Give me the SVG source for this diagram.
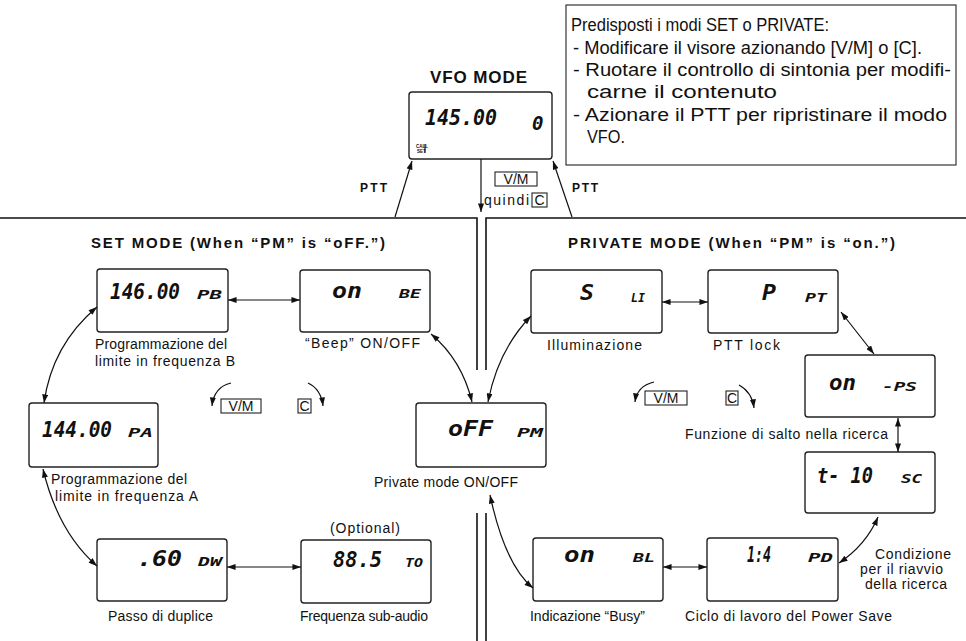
<svg xmlns="http://www.w3.org/2000/svg" width="966" height="641" viewBox="0 0 966 641">
<defs>
<style>
.bg{fill:#fff}
.lcd{fill:none;stroke:#222;stroke-width:1.4}
.box{fill:none;stroke:#222;stroke-width:1.1}
.dig{font-family:"DejaVu Sans Mono",monospace;font-style:oblique;font-weight:bold;fill:#111}
.big{font-size:21px}
.sm{font-size:13px}
.lab{font-family:"Liberation Sans",Arial,sans-serif;font-size:14px;fill:#111}
.note{font-family:"Liberation Sans",Arial,sans-serif;font-size:17.5px;fill:#111}
.ttl{font-family:"Liberation Sans",Arial,sans-serif;font-weight:bold;fill:#111}
.ln{fill:none;stroke:#111;stroke-width:1.2}
.div{fill:none;stroke:#111;stroke-width:1.6}
.a1{marker-end:url(#ah)}
.a2{marker-start:url(#ah);marker-end:url(#ah)}
</style>
<marker id="ah" viewBox="0 0 10 7" refX="10" refY="3.5" markerWidth="9" markerHeight="6" markerUnits="userSpaceOnUse" orient="auto-start-reverse"><path d="M0,0 L10,3.5 L0,7 z" fill="#111"/></marker>
</defs>
<rect class="bg" x="0" y="0" width="966" height="641"/>

<g id="note">
<rect class="box" x="566" y="5" width="390" height="160"/>
<text class="note" x="571" y="31" textLength="258" lengthAdjust="spacingAndGlyphs">Predisposti i modi SET o PRIVATE:</text>
<text class="note" x="573" y="54" textLength="349" lengthAdjust="spacingAndGlyphs">- Modificare il visore azionando [V/M] o [C].</text>
<text class="note" x="573" y="76" textLength="378" lengthAdjust="spacingAndGlyphs">- Ruotare il controllo di sintonia per modifi-</text>
<text class="note" x="587" y="98" textLength="190" lengthAdjust="spacingAndGlyphs">carne il contenuto</text>
<text class="note" x="573" y="121" textLength="374" lengthAdjust="spacingAndGlyphs">- Azionare il PTT per ripristinare il modo</text>
<text class="note" x="587" y="143" textLength="38" lengthAdjust="spacingAndGlyphs">VFO.</text>
</g>

<g id="vfo">
<text class="ttl" x="430" y="83" font-size="17" textLength="97" lengthAdjust="spacing">VFO MODE</text>
<rect class="lcd" x="409" y="92" width="143" height="67" rx="3"/>
<text class="dig big" x="425" y="125" font-size="24" textLength="72" lengthAdjust="spacingAndGlyphs">145.00</text>
<text class="dig" x="532" y="130" font-size="19">0</text>
<text x="416" y="148" font-family="Liberation Sans,sans-serif" font-size="4.5" font-weight="bold" fill="#111">CALL</text>
<text x="417" y="153" font-family="Liberation Sans,sans-serif" font-size="4.5" font-weight="bold" fill="#111">SET</text>
<line class="ln" x1="425" y1="144" x2="425" y2="153"/>
</g>

<g id="vfo-labels">
<text class="ttl" x="360" y="192" font-size="12" textLength="27" lengthAdjust="spacing">PTT</text>
<text class="ttl" x="572" y="192" font-size="12" textLength="26" lengthAdjust="spacing">PTT</text>
<rect class="box" x="495" y="172" width="42" height="14"/>
<text class="lab" x="516" y="184" font-size="13" text-anchor="middle">V/M</text>
<text class="lab" x="484" y="205" font-size="13" textLength="45" lengthAdjust="spacing">quindi</text>
<rect class="box" x="532" y="193" width="15" height="14"/>
<text class="lab" x="539.5" y="205" font-size="13" text-anchor="middle">C</text>
</g>

<g id="headings">
<text class="ttl" x="91" y="248" font-size="15" textLength="294" lengthAdjust="spacing">SET  MODE  (When “PM” is “oFF.”)</text>
<text class="ttl" x="568" y="248" font-size="15" textLength="327" lengthAdjust="spacing">PRIVATE  MODE  (When “PM” is “on.”)</text>
</g>

<g id="pb">
<rect class="lcd" x="97" y="269" width="131" height="63" rx="3"/>
<text class="dig big" x="110" y="299" font-size="22" textLength="70" lengthAdjust="spacingAndGlyphs">146.00</text>
<text class="dig sm" x="197" y="299" textLength="25" lengthAdjust="spacingAndGlyphs">PB</text>
<text class="lab" x="95" y="349" textLength="132" lengthAdjust="spacing">Programmazione del</text>
<text class="lab" x="95" y="366" textLength="140" lengthAdjust="spacing">limite in frequenza B</text>
</g>

<g id="be">
<rect class="lcd" x="300" y="270" width="130" height="62" rx="3"/>
<text class="dig big" x="332" y="298" textLength="30" lengthAdjust="spacingAndGlyphs">on</text>
<text class="dig sm" x="399" y="298" textLength="22" lengthAdjust="spacingAndGlyphs">BE</text>
<text class="lab" x="305" y="348" textLength="115" lengthAdjust="spacing">“Beep” ON/OFF</text>
</g>

<g id="pa">
<rect class="lcd" x="29" y="403" width="129" height="64" rx="3"/>
<text class="dig big" x="42" y="437" font-size="22" textLength="70" lengthAdjust="spacingAndGlyphs">144.00</text>
<text class="dig sm" x="128" y="437" textLength="25" lengthAdjust="spacingAndGlyphs">PA</text>
<text class="lab" x="51" y="484" textLength="136" lengthAdjust="spacing">Programmazione del</text>
<text class="lab" x="55" y="501" textLength="143" lengthAdjust="spacing">limite in frequenza A</text>
</g>

<g id="dw">
<rect class="lcd" x="97" y="539" width="130" height="62" rx="3"/>
<text class="dig big" x="137" y="566" textLength="45" lengthAdjust="spacingAndGlyphs">.60</text>
<text class="dig sm" x="198" y="566" textLength="24" lengthAdjust="spacingAndGlyphs">DW</text>
<text class="lab" x="108" y="621" textLength="105" lengthAdjust="spacing">Passo di duplice</text>
</g>

<g id="to">
<rect class="lcd" x="301" y="540" width="130" height="63" rx="3"/>
<text class="dig big" x="333" y="567" textLength="49" lengthAdjust="spacingAndGlyphs">88.5</text>
<text class="dig sm" x="405" y="567" textLength="18" lengthAdjust="spacingAndGlyphs">TO</text>
<text class="lab" x="330" y="533" textLength="70" lengthAdjust="spacing">(Optional)</text>
<text class="lab" x="300" y="621" textLength="128" lengthAdjust="spacing">Frequenza sub-audio</text>
</g>

<g id="rot-left">
<rect class="box" x="221" y="399" width="40" height="14"/>
<text class="lab" x="241" y="411" font-size="13" text-anchor="middle">V/M</text>
<rect class="box" x="298" y="399" width="13" height="14"/>
<text class="lab" x="304.5" y="411" font-size="13" text-anchor="middle">C</text>
<path class="ln a1" d="M231,383 Q214,387 212,406"/>
<path class="ln a1" d="M308,383 Q321,389 323,406"/>
</g>

<g id="pm">
<rect class="lcd" x="416" y="403" width="130" height="64" rx="3"/>
<text class="dig big" x="448" y="436" textLength="45" lengthAdjust="spacingAndGlyphs">oFF</text>
<text class="dig sm" x="517" y="437" textLength="26" lengthAdjust="spacingAndGlyphs">PM</text>
<text class="lab" x="374" y="487" textLength="144" lengthAdjust="spacing">Private mode ON/OFF</text>
</g>

<g id="li">
<rect class="lcd" x="531" y="270" width="131" height="63" rx="3"/>
<text class="dig big" x="580" y="300" textLength="14" lengthAdjust="spacingAndGlyphs">S</text>
<text class="dig sm" x="631" y="302" textLength="14" lengthAdjust="spacingAndGlyphs">LI</text>
<text class="lab" x="547" y="350" textLength="95" lengthAdjust="spacing">Illuminazione</text>
</g>

<g id="pt">
<rect class="lcd" x="708" y="270" width="130" height="63" rx="3"/>
<text class="dig big" x="762" y="300" textLength="14" lengthAdjust="spacingAndGlyphs">P</text>
<text class="dig sm" x="805" y="302" textLength="22" lengthAdjust="spacingAndGlyphs">PT</text>
<text class="lab" x="713" y="350" textLength="67" lengthAdjust="spacing">PTT lock</text>
</g>

<g id="ps">
<rect class="lcd" x="805" y="355" width="130" height="62" rx="3"/>
<text class="dig big" x="829" y="390" textLength="27" lengthAdjust="spacingAndGlyphs">on</text>
<text class="dig sm" x="882" y="391" textLength="35" lengthAdjust="spacingAndGlyphs">-PS</text>
<text class="lab" x="685" y="439" textLength="203" lengthAdjust="spacing">Funzione di salto nella ricerca</text>
</g>

<g id="sc">
<rect class="lcd" x="805" y="452" width="130" height="61" rx="3"/>
<text class="dig big" x="817" y="483" textLength="56" lengthAdjust="spacingAndGlyphs">t- 10</text>
<text class="dig sm" x="901" y="483" textLength="21" lengthAdjust="spacingAndGlyphs">SC</text>
<text class="lab" x="875" y="559" textLength="76" lengthAdjust="spacing">Condizione</text>
<text class="lab" x="860" y="574" textLength="83" lengthAdjust="spacing">per il riavvio</text>
<text class="lab" x="865" y="589" textLength="82" lengthAdjust="spacing">della ricerca</text>
</g>

<g id="rot-right">
<rect class="box" x="645" y="391" width="42" height="14"/>
<text class="lab" x="666" y="403" font-size="13" text-anchor="middle">V/M</text>
<rect class="box" x="726" y="391" width="12" height="14"/>
<text class="lab" x="732" y="403" font-size="13" text-anchor="middle">C</text>
<path class="ln a1" d="M654,382 Q637,386 635,402"/>
<path class="ln a1" d="M739,385 Q752,392 754,408"/>
</g>

<g id="bl">
<rect class="lcd" x="533" y="538" width="130" height="63" rx="3"/>
<text class="dig big" x="564" y="562" textLength="31" lengthAdjust="spacingAndGlyphs">on</text>
<text class="dig sm" x="633" y="562" textLength="22" lengthAdjust="spacingAndGlyphs">BL</text>
<text class="lab" x="530" y="621" textLength="115" lengthAdjust="spacing">Indicazione “Busy”</text>
</g>

<g id="pd">
<rect class="lcd" x="707" y="538" width="131" height="63" rx="3"/>
<text class="dig big" x="747" y="562" textLength="24" lengthAdjust="spacingAndGlyphs">1:4</text>
<text class="dig sm" x="808" y="562" textLength="25" lengthAdjust="spacingAndGlyphs">PD</text>
<text class="lab" x="685" y="621" textLength="207" lengthAdjust="spacing">Ciclo di lavoro del Power Save</text>
</g>

<g id="dividers">
<path class="div" d="M0,218 H477 V370"/>
<path class="div" d="M966,218 H486 V370"/>
<path class="div" d="M477,513 V641"/>
<path class="div" d="M486,513 V641"/>
</g>

<g id="connectors">
<line class="ln a1" x1="481" y1="159" x2="481" y2="212"/>
<line class="ln a1" x1="395" y1="217" x2="412" y2="161"/>
<line class="ln a1" x1="572" y1="217" x2="553" y2="161"/>
<line class="ln a2" x1="228" y1="300" x2="300" y2="300"/>
<path class="ln a2" d="M97,307 Q52,345 44,403"/>
<path class="ln a2" d="M43,469 Q58,532 97,566"/>
<line class="ln a2" x1="227" y1="567" x2="301" y2="567"/>
<path class="ln a2" d="M431,334 Q462,360 472,402"/>
<path class="ln a2" d="M531,316 Q498,350 488,402"/>
<line class="ln a2" x1="662" y1="302" x2="708" y2="302"/>
<line class="ln a2" x1="841" y1="312" x2="874" y2="354"/>
<line class="ln a2" x1="898" y1="418" x2="898" y2="452"/>
<path class="ln a2" d="M878,517 Q866,545 839,563"/>
<line class="ln a2" x1="663" y1="567" x2="707" y2="567"/>
<path class="ln a2" d="M490,495 Q505,565 533,588"/>
</g>
</svg>
